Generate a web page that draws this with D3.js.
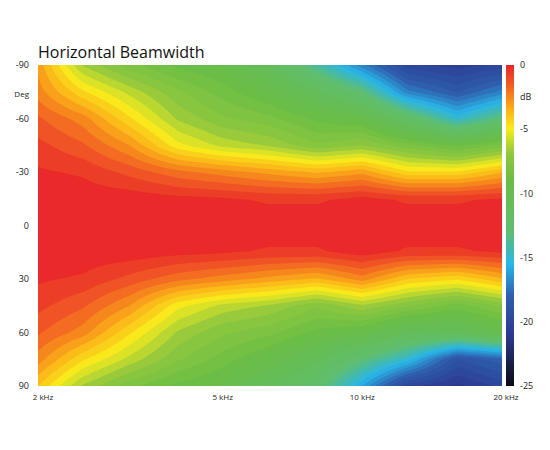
<!DOCTYPE html>
<html><head><meta charset="utf-8">
<script src="https://cdn.jsdelivr.net/npm/d3@7"></script>
<style>body{margin:0;background:#fff;font-family:"Myriad Pro","Open Sans",sans-serif}</style>
</head><body><div id="chart"></div>
<script>
// Declare data
const freqs = [2000, 2500, 3150, 4000, 5000, 6300, 8000, 10000, 12500, 16000, 20000];
const angles = [-90, -75, -60, -45, -30, -15, 0, 15, 30, 45, 60, 75, 90];
// dB level per frequency (rows) at each angle (columns)
const levels = [
  [-3, -2.5, -1.5, -0.8, -0.3, 0, 0, 0, -0.3, -0.8, -1.5, -2.5, -4],
  [-6.5, -4.5, -2.5, -1.5, -0.5, 0, 0, 0, -0.5, -1.5, -2.5, -4.5, -6.5],
  [-8, -6, -4.5, -2.8, -1.2, 0, 0, 0, -1.2, -2.8, -4.5, -6, -8],
  [-9, -7.5, -6.5, -5, -2, -0.2, 0, -0.2, -2, -5, -6.5, -7.5, -9],
  [-9.5, -8.5, -7.5, -6, -2.5, -0.3, 0, -0.3, -2.5, -6, -7.5, -8.5, -9.5],
  [-11, -9.5, -8, -6.5, -3, -0.5, 0, -0.5, -3, -6.5, -8, -9.5, -11],
  [-14, -11, -9, -7.5, -3.5, -0.5, 0, -0.5, -3.5, -7.5, -9, -11, -12.5],
  [-17, -13, -9.5, -7, -3, -0.2, 0, -0.1, -2.5, -6.5, -9.5, -13, -16],
  [-20, -17, -12, -8, -4.5, -0.5, 0, -0.5, -4, -7.5, -11, -15, -20],
  [-20.5, -18.5, -15, -9, -4.5, -0.5, 0, -0.5, -4.5, -8.5, -11, -19, -21],
  [-20, -17, -13, -8, -3.5, -0.3, 0, -0.3, -3.5, -7.5, -10, -18, -20]
];
const colorTicks = [0, -5, -10, -15, -20, -25];
const freqTicks = [2000, 5000, 10000, 20000];
const angleTicks = [-90, -60, -30, 0, 30, 60, 90];

const width = 550, height = 450;
const marginLeft = 38, marginRight = 48, marginTop = 65, marginBottom = 64;
const pw = width - marginLeft - marginRight, ph = height - marginTop - marginBottom;

const x = d3.scaleLog().domain([2000, 20000]).range([marginLeft, width - marginRight]);
const y = d3.scaleLinear().domain([-90, 90]).range([marginTop, height - marginBottom]);

const color = d3.scaleLinear()
  .domain([-25, -21, -18, -15.5, -13, -9, -6.8, -5, -3.5, -1.5, 0])
  .range(["#0b0b12", "#2b3990", "#2f5fae", "#29b6e8", "#5fbe70", "#6abd45", "#92c83e", "#f9ec1c", "#fbb317", "#f15a24", "#e8252a"])
  .clamp(true);

const svg = d3.select("#chart").append("svg")
  .attr("width", width).attr("height", height)
  .attr("viewBox", [0, 0, width, height]);

// resample the grid (bilinear, in log-frequency) for smooth contour bands
const nx = 160, ny = 120;
const lf = freqs.map(f => Math.log10(f));
const grid = new Float64Array(nx * ny);
for (let j = 0; j < ny; j++) {
  const a = -90 + 180 * j / (ny - 1);
  const ai = Math.min(angles.length - 2, Math.floor((a + 90) / 15));
  const at = (a - angles[ai]) / 15;
  for (let i = 0; i < nx; i++) {
    const l = lf[0] + (lf[lf.length - 1] - lf[0]) * i / (nx - 1);
    let fi = d3.bisectRight(lf, l) - 1;
    fi = Math.max(0, Math.min(lf.length - 2, fi));
    const ft = (l - lf[fi]) / (lf[fi + 1] - lf[fi]);
    const v0 = levels[fi][ai] * (1 - at) + levels[fi][ai + 1] * at;
    const v1 = levels[fi + 1][ai] * (1 - at) + levels[fi + 1][ai + 1] * at;
    grid[j * nx + i] = v0 * (1 - ft) + v1 * ft;
  }
}
const thresholds = d3.range(-25, 0.01, 0.6);
const contours = d3.contours().size([nx, ny]).thresholds(thresholds)(grid);
const sx = pw / (nx - 1), sy = ph / (ny - 1);
const path = d3.geoPath(d3.geoTransform({
  point(px, py) {
    this.stream.point(marginLeft + Math.max(0, Math.min(nx - 1, px - 0.5)) * sx,
                      marginTop + Math.max(0, Math.min(ny - 1, py - 0.5)) * sy);
  }
}));
svg.append("clipPath").attr("id", "clip").append("rect")
  .attr("x", marginLeft).attr("y", marginTop).attr("width", pw).attr("height", ph);
svg.append("g").attr("clip-path", "url(#clip)")
  .selectAll("path").data(contours).join("path")
  .attr("d", path).attr("fill", d => color(d.value + 0.3));

// title
svg.append("text").attr("x", marginLeft).attr("y", 58)
  .attr("font-size", 16).attr("fill", "#111").text("Horizontal Beamwidth");

// y axis labels
svg.append("g").attr("font-size", 9).attr("text-anchor", "end").attr("fill", "#222")
  .selectAll("text").data(angleTicks).join("text")
  .attr("x", 29).attr("y", d => y(d)).attr("dy", "0.35em").text(d => d);
svg.append("text").attr("x", 29).attr("y", 97).attr("text-anchor", "end")
  .attr("font-size", 8).attr("fill", "#222").text("Deg");

// x axis labels
svg.append("g").attr("font-size", 8).attr("fill", "#222").attr("text-anchor", "middle")
  .selectAll("text").data(freqTicks).join("text")
  .attr("x", d => x(d) + (d === 2000 ? 5 : d === 20000 ? 4 : 0)).attr("y", 400)
  .text(d => d / 1000 + " kHz");

// colour bar
const cb = d3.scaleLinear().domain([0, -25]).range([marginTop, height - marginBottom]);
const grad = svg.append("defs").append("linearGradient").attr("id", "cbar")
  .attr("x1", 0).attr("y1", 0).attr("x2", 0).attr("y2", 1);
grad.selectAll("stop").data(d3.range(0, -25.01, -0.5)).join("stop")
  .attr("offset", d => -d / 25).attr("stop-color", d => color(d));
svg.append("rect").attr("x", 506).attr("y", marginTop).attr("width", 8).attr("height", ph)
  .attr("fill", "url(#cbar)");
svg.append("g").attr("font-size", 9).attr("fill", "#222")
  .selectAll("text").data(colorTicks).join("text")
  .attr("x", 520).attr("y", d => cb(d)).attr("dy", "0.35em").text(d => d);
svg.append("text").attr("x", 520).attr("y", 100).attr("font-size", 9).attr("fill", "#222").text("dB");
</script></body></html>
